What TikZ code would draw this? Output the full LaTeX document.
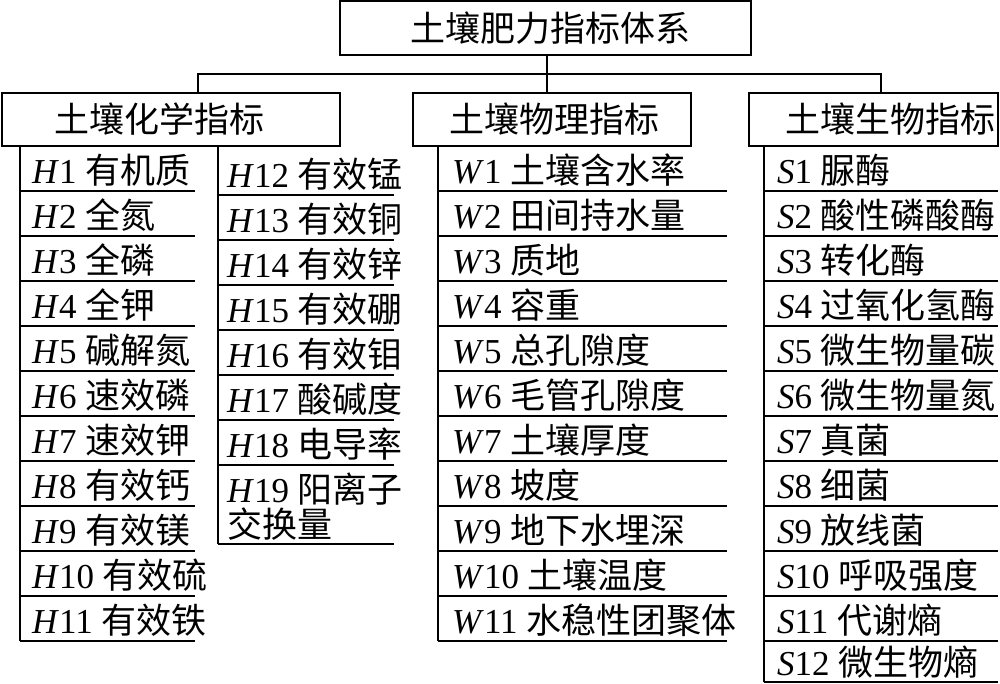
\documentclass[tikz,border=0pt]{standalone}
\usepackage{fontspec}
\setmainfont{Liberation Serif}
\newfontfamily\cjk{Noto Sans CJK SC}
\newcommand\fsz{\fontsize{35}{36}\selectfont}
\newcommand\itm[3]{\textit{#1}#2 {\cjk #3}}
\tikzset{
  box/.style={draw, line width=1.4pt, inner sep=0pt},
  txt/.style={inner sep=0pt, anchor=base west, font=\fsz},
  ctxt/.style={inner sep=0pt, anchor=west, font=\fsz\cjk},
  rule/.style={line width=1.4pt},
}
\begin{document}
\begin{tikzpicture}[x=1pt,y=-1pt]
\useasboundingbox (0,0) rectangle (1000,683);
% root and category boxes
\node[box, minimum width=411pt, minimum height=54pt] (root) at (545.5,28) {};
\node[ctxt, anchor=center] (roott) at (550,28) {土壤肥力指标体系};
\node[box, minimum width=338pt, minimum height=53pt] (chem) at (171,119.5) {};
\node[ctxt] (chemt) at (54,119.5) {土壤化学指标};
\node[box, minimum width=278pt, minimum height=53pt] (phys) at (552,119.5) {};
\node[ctxt] (physt) at (449,119.5) {土壤物理指标};
\node[box, minimum width=249pt, minimum height=53pt] (bio) at (873.5,119.5) {};
\node[ctxt] (biot) at (785,119.5) {土壤生物指标};
% connectors
\coordinate (bL) at (198,74);
\coordinate (bM) at (547,74);
\coordinate (bR) at (881,74);
\draw[rule] (root.south -| bM) -- (phys.north -| bM);
\draw[rule] (chem.north -| bL) |- (bR) -- (bio.north -| bR);
% chemistry, left column
\coordinate (hLend) at (20,641);
\draw[rule] (chem.south -| hLend) -- (hLend);
\foreach \n/\t [count=\i from 0] in {1/有机质,2/全氮,3/全磷,4/全钾,5/碱解氮,6/速效磷,7/速效钾,8/有效钙,9/有效镁,10/有效硫,11/有效铁} {
  \node[txt] (h\n) at (32,{183+45*\i}) {\itm{H}{\n}{\t}};
  \draw[rule] (20,{191+45*\i}) -- (195,{191+45*\i});
}
% chemistry, right column
\coordinate (hRend) at (218,544);
\draw[rule] (chem.south -| hRend) -- (hRend);
\foreach \n/\t [count=\i from 0] in {12/有效锰,13/有效铜,14/有效锌,15/有效硼,16/有效钼,17/酸碱度,18/电导率} {
  \node[txt] (h\n) at (227,{187+45*\i}) {\itm{H}{\n}{\t}};
  \draw[rule] (218,{195+45*\i}) -- (394,{195+45*\i});
}
\node[txt] (h19) at (227,502) {\itm{H}{19}{阳离子}};
\node[txt] (h19b) at (227,537) {\cjk 交换量};
\draw[rule] (hRend) -- (394,544);
% physics
\coordinate (wend) at (438,641);
\draw[rule] (phys.south -| wend) -- (wend);
\foreach \n/\t [count=\i from 0] in {1/土壤含水率,2/田间持水量,3/质地,4/容重,5/总孔隙度,6/毛管孔隙度,7/土壤厚度,8/坡度,9/地下水埋深,10/土壤温度,11/水稳性团聚体} {
  \node[txt] (w\n) at (452,{183+45*\i}) {\itm{W}{\n}{\t}};
  \draw[rule] (438,{191+45*\i}) -- (727,{191+45*\i});
}
% biology
\coordinate (send) at (764,682);
\draw[rule] (bio.south -| send) -- (send);
\foreach \n/\t [count=\i from 0] in {1/脲酶,2/酸性磷酸酶,3/转化酶,4/过氧化氢酶,5/微生物量碳,6/微生物量氮,7/真菌,8/细菌,9/放线菌,10/呼吸强度,11/代谢熵} {
  \node[txt] (s\n) at (777,{183+45*\i}) {\itm{S}{\n}{\t}};
  \draw[rule] (764,{191+45*\i}) -- (998,{191+45*\i});
}
\node[txt] (s12) at (777,675) {\itm{S}{12}{微生物熵}};
\draw[rule] (send) -- (998,682);
\end{tikzpicture}
\end{document}
